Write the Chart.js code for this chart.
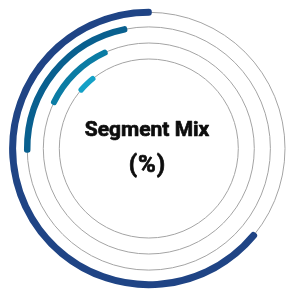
<!DOCTYPE html>
<html>
<head>
<meta charset="utf-8">
<script src="https://cdn.jsdelivr.net/npm/chart.js@4.4.1/dist/chart.umd.min.js"></script>
<style>
  html, body { margin: 0; padding: 0; background: #fff; overflow: hidden; }
  #wrap { width: 286px; height: 290px; }
</style>
</head>
<body>
<div id="wrap"><canvas id="myChart"></canvas></div>
<script>
// DATA //
const segments = ["Segment A", "Segment B", "Segment C", "Segment D"];
const shares = [64, 22, 11, 3];
// where each arc ends, degrees from 12 o'clock
const endAngles = [0, -11.5, -24.5, -38.5];
const centerLines = ["Segment Mix", "(%)"];

// LOOK //
const colors = ["#1f4485", "#09608f", "#0b7ca4", "#14a1c7"];
const ringWidths = [7, 6.5, 6, 5.5];
const ringRadii = [136.2, 121.6, 105.5, 89.5];

// build the rings, with empty spacer rings in between
const datasets = [];
for (let i = 0; i < shares.length; i++) {
  datasets.push({
    label: segments[i],
    isRing: true,
    data: [shares[i], 100 - shares[i]],
    backgroundColor: [colors[i], "rgba(0,0,0,0)"],
    borderColor: [colors[i], "rgba(0,0,0,0)"],
    borderWidth: [ringWidths[i] - 1, 0],
    borderJoinStyle: "round",
    rotation: endAngles[i] - shares[i] * 3.6,
    weight: 1,
    clip: false,
  });
  if (i < shares.length - 1) {
    datasets.push({
      data: [1],
      backgroundColor: "rgba(0,0,0,0)",
      borderWidth: 0,
      weight: ringRadii[i] - ringRadii[i + 1] - 1,
      clip: false,
    });
  }
}

// thin grey track under every ring
const tracks = {
  id: "tracks",
  beforeDatasetsDraw(chart) {
    const ctx = chart.ctx;
    ctx.save();
    ctx.strokeStyle = "#a4a4a4";
    ctx.lineWidth = 1;
    chart.data.datasets.forEach((ds, i) => {
      if (!ds.isRing) return;
      const arc = chart.getDatasetMeta(i).data[0];
      const r = (arc.innerRadius + arc.outerRadius) / 2;
      ctx.beginPath();
      ctx.arc(arc.x, arc.y, r, 0, Math.PI * 2);
      ctx.stroke();
    });
    ctx.restore();
  },
};

// title in the hole (a thin stroke makes it a bit heavier)
const centerText = {
  id: "centerText",
  afterDraw(chart) {
    const arc = chart.getDatasetMeta(0).data[0];
    const ctx = chart.ctx;
    ctx.save();
    ctx.fillStyle = "#0d0d0d";
    ctx.strokeStyle = "#0d0d0d";
    ctx.lineWidth = 0.7;
    ctx.lineJoin = "round";
    ctx.textAlign = "center";
    ctx.textBaseline = "alphabetic";
    ctx.font = "bold 21px Roboto";
    ctx.fillText(centerLines[0], arc.x - 1.8, arc.y - 12.5);
    ctx.strokeText(centerLines[0], arc.x - 1.8, arc.y - 12.5);
    ctx.font = "bold 24px Roboto";
    ctx.letterSpacing = "1px";
    ctx.fillText(centerLines[1], arc.x - 1.3, arc.y + 23.5);
    ctx.strokeText(centerLines[1], arc.x - 1.3, arc.y + 23.5);
    ctx.restore();
  },
};

const last = ringRadii.length - 1;
new Chart(document.getElementById("myChart"), {
  type: "doughnut",
  data: { labels: ["value", "rest"], datasets: datasets },
  options: {
    responsive: true,
    maintainAspectRatio: false,
    animation: false,
    events: [],
    radius: ringRadii[0] + 0.5,
    cutout: ((ringRadii[last] - 0.5) / (ringRadii[0] + 0.5)) * 100 + "%",
    layout: { padding: { left: 11.6, right: 0, top: 7, bottom: 0 } },
    plugins: {
      legend: { display: false },
      tooltip: { enabled: false },
    },
  },
  plugins: [tracks, centerText],
});
</script>
</body>
</html>
